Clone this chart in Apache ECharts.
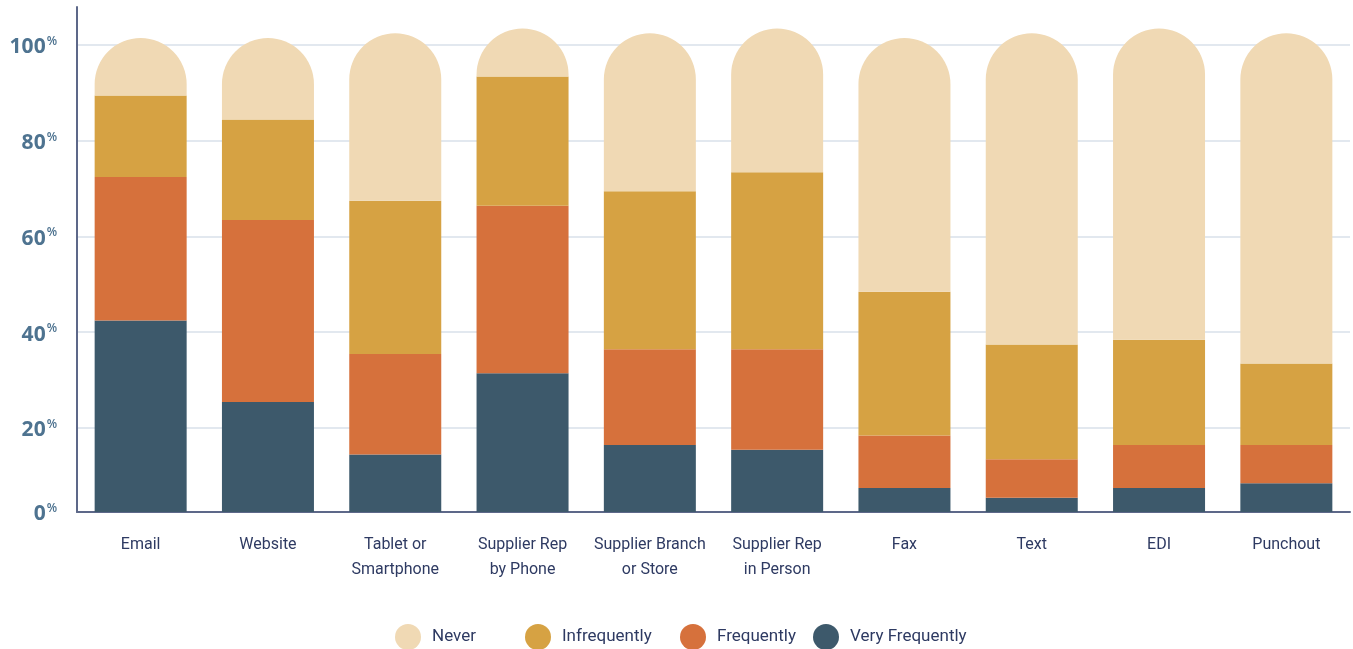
<!DOCTYPE html>
<html>
<head>
<meta charset="utf-8">
<script src="https://cdn.jsdelivr.net/npm/echarts@6/dist/echarts.min.js"></script>
<style>
html,body{margin:0;padding:0;background:#fff;}
#chart{width:1353px;height:649px;}
</style>
</head>
<body>
<div id="chart"></div>
<script>
const categories = ['Email','Website','Tablet or\nSmartphone','Supplier Rep\nby Phone','Supplier Branch\nor Store','Supplier Rep\nin Person','Fax','Text','EDI','Punchout'];
const seriesNames = ['Never','Infrequently','Frequently','Very Frequently'];
const veryFrequently = [40,23,12,29,14,13,5,3,5,6];
const frequently = [30,38,21,35,20,21,11,8,9,8];
const infrequently = [17,21,32,27,33,37,30,24,22,17];
const never = [12,17,35,10,33,30,53,65,65,69];
const tickValues = [0,20,40,60,80,100];

const colors = {
  'Never':'#f0d9b4',
  'Infrequently':'#d6a243',
  'Frequently':'#d6713c',
  'Very Frequently':'#3d596b'
};
const legendLefts = [390,520,675,808];
const axisColor = '#5d6889';
const labelColor = '#4e7390';
const textColor = '#2e3a62';

const pctRich = {
  n:{fontFamily:'Open Sans',fontWeight:700,fontSize:21,color:labelColor,padding:[5,0,0,0]},
  p:{fontFamily:'Open Sans',fontWeight:600,fontSize:12,color:labelColor,padding:[0,0,7,1]}
};

const chart = echarts.init(document.getElementById('chart'));
function bar(name, data, extra){
  return Object.assign({
    name:name, type:'bar', stack:'total', data:data,
    xAxisIndex:0, yAxisIndex:0,
    barWidth:92,
    itemStyle:{color:colors[name]},
    emphasis:{disabled:true}
  }, extra||{});
}
const legends = seriesNames.map(function(n,i){
  return {
    data:[n],
    left:legendLefts[i], top:619,
    icon:'circle',itemWidth:26,itemHeight:26,
    textStyle:{fontFamily:'Roboto',fontSize:17,color:textColor,padding:[0,0,0,6]},
    selectedMode:false
  };
});
chart.setOption({
  animation:false,
  backgroundColor:'#fff',
  grid:[
    {left:77,right:3,top:7,bottom:137},
    {left:77,right:3,top:45,bottom:125.5}
  ],
  xAxis:[
    {type:'category',gridIndex:0,data:categories,
     axisLine:{lineStyle:{color:axisColor,width:2}},
     axisTick:{show:false},
     axisLabel:{margin:20,fontFamily:'Roboto',fontSize:16,lineHeight:25,color:textColor,interval:0}},
    {type:'category',gridIndex:1,data:categories,show:false}
  ],
  yAxis:[
    {type:'value',gridIndex:0,min:0,max:105.5,
     axisLine:{show:true,lineStyle:{color:axisColor,width:2}},
     axisTick:{show:false},splitLine:{show:false},
     axisLabel:{margin:20,formatter:function(v){return v===0?'{n|0}{p|%}':'';},rich:pctRich}},
    {type:'value',gridIndex:1,min:0,max:100,interval:20,
     axisLine:{show:false},axisTick:{show:false},
     splitLine:{show:true,showMinLine:false,lineStyle:{color:'#e2e8ef',width:2}},
     axisLabel:{margin:20,formatter:function(v){return (v===0||tickValues.indexOf(v)<0)?'':'{n|'+v+'}{p|%}';},rich:pctRich}}
  ],
  legend:legends,
  series:[
    bar('Very Frequently', veryFrequently),
    bar('Frequently', frequently),
    bar('Infrequently', infrequently),
    bar('Never', never, {itemStyle:{color:colors['Never'],borderRadius:[46,46,0,0]}})
  ]
});
</script>
</body>
</html>
